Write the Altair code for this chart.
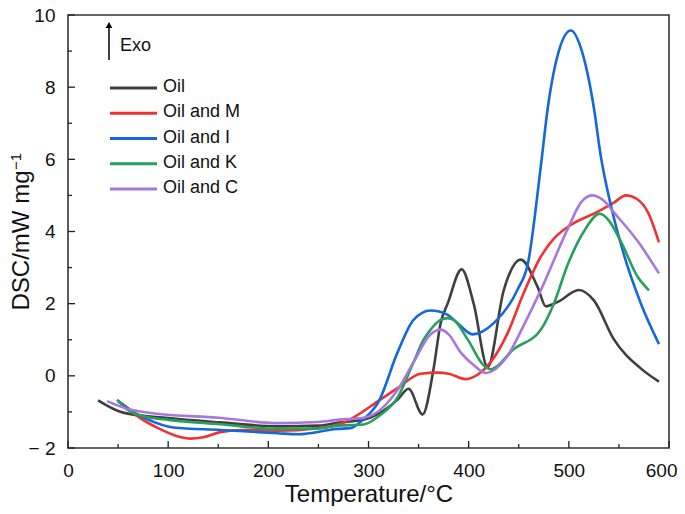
import altair as alt
import pandas as pd

# ---- data ----
oil_x = [30, 55, 100, 152, 209, 250, 269, 295, 310, 329, 340, 354, 365, 372, 379, 393, 405, 419, 435, 452, 469, 477, 489, 510, 525, 545, 572, 590]
oil_y = [-0.68, -1.02, -1.17, -1.29, -1.40, -1.38, -1.30, -1.22, -1.05, -0.66, -0.36, -1.07, 0.20, 1.46, 2.00, 2.95, 2.00, 0.24, 2.37, 3.22, 2.45, 1.93, 2.05, 2.38, 2.09, 1.01, 0.20, -0.16]

m_x = [50, 60, 69, 90, 110, 122, 135, 152, 175, 209, 250, 275, 295, 305, 329, 352, 369, 380, 397, 410, 422, 439, 455, 472, 485, 499, 529, 545, 557, 568, 579, 590]
m_y = [-0.70, -0.90, -1.11, -1.45, -1.68, -1.74, -1.70, -1.56, -1.50, -1.52, -1.45, -1.30, -0.98, -0.79, -0.34, 0.06, 0.09, 0.06, -0.09, 0.05, 0.38, 1.19, 2.30, 3.30, 3.80, 4.13, 4.55, 4.80, 5.00, 4.90, 4.53, 3.70]

i_x = [50, 65, 79, 105, 152, 209, 230, 269, 282, 295, 310, 329, 345, 362, 379, 389, 404, 425, 449, 459, 472, 479, 490, 502, 513, 525, 532, 542, 555, 572, 590]
i_y = [-0.70, -1.00, -1.20, -1.43, -1.50, -1.59, -1.62, -1.47, -1.45, -1.20, -0.72, 0.65, 1.55, 1.81, 1.69, 1.46, 1.15, 1.46, 2.40, 3.09, 5.80, 7.43, 9.00, 9.57, 9.00, 7.43, 6.07, 4.72, 3.36, 2.00, 0.88]

k_x = [49, 59, 80, 100, 152, 209, 250, 269, 295, 312, 329, 345, 355, 362, 372, 379, 385, 399, 415, 422, 445, 472, 485, 499, 515, 531, 540, 552, 569, 580]
k_y = [-0.66, -0.93, -1.15, -1.22, -1.34, -1.47, -1.46, -1.38, -1.35, -1.08, -0.60, 0.38, 1.00, 1.28, 1.55, 1.60, 1.55, 1.01, 0.29, 0.18, 0.74, 1.28, 2.00, 3.09, 4.00, 4.49, 4.30, 3.72, 2.73, 2.37]

c_x = [39, 60, 89, 150, 209, 250, 269, 295, 305, 329, 345, 362, 372, 380, 392, 405, 417, 439, 455, 472, 499, 512, 523, 535, 545, 569, 590]
c_y = [-0.70, -0.92, -1.05, -1.16, -1.31, -1.28, -1.22, -1.16, -1.07, -0.39, 0.38, 1.15, 1.28, 1.15, 0.65, 0.30, 0.08, 0.56, 1.40, 2.37, 4.08, 4.80, 5.00, 4.85, 4.53, 3.72, 2.84]

series_names = ["Oil", "Oil and M", "Oil and I", "Oil and K", "Oil and C"]
series_colors = ["#3f3f3f", "#ef3232", "#1467dc", "#27a05c", "#a877dd"]

x_major = [0, 100, 200, 300, 400, 500, 600]
x_minor = [50, 150, 250, 350, 450, 550]
y_major = [-2, 0, 2, 4, 6, 8, 10]
y_minor = [-1, 1, 3, 5, 7, 9]

# ---- build tables ----
rows = []
for name, xs, ys in zip(series_names, [oil_x, m_x, i_x, k_x, c_x], [oil_y, m_y, i_y, k_y, c_y]):
    for xv, yv in zip(xs, ys):
        rows.append({"series": name, "T": xv, "DSC": yv})
df = pd.DataFrame(rows)
leg_df = pd.DataFrame({"series": series_names, "row": list(range(len(series_names)))})

W, H = 601, 433
FONT = "Liberation Sans"

xscale = alt.Scale(domain=[0, 600], nice=False, zero=False)
yscale = alt.Scale(domain=[-2, 10], nice=False, zero=False)
cscale = alt.Scale(domain=series_names, range=series_colors)
rowscale = alt.Scale(domain=[0, 4], range=[73, 174])

xaxis = alt.Axis(values=x_major, ticks=False, tickSize=0, domain=False, grid=False,
                 labelFlush=False, labelFontSize=19, labelPadding=13, labelColor="#111",
                 labelAlign={"condition": {"test": "datum.value == 600", "value": "right"}, "value": "center"},
                 labelOffset={"condition": {"test": "datum.value == 600", "value": 8}, "value": 0},
                 titleFontSize=24, titleFontWeight="normal", titleColor="#111",
                 titleY=53, titleBaseline="alphabetic", labelFont=FONT, titleFont=FONT)

lines = alt.Chart(df).mark_line(interpolate="monotone", strokeWidth=2.6).encode(
    x=alt.X("T:Q", scale=xscale, title="Temperature/°C", axis=xaxis),
    y=alt.Y("DSC:Q", scale=yscale, title="DSC/mW mg",
            axis=alt.Axis(values=y_major, ticks=False, tickSize=0, domain=False, grid=False,
                          labelFlush=False, labelFontSize=19, labelPadding=13, labelColor="#111",
                          labelExpr="datum.value < 0 ? '\u2212 ' + abs(datum.value) : datum.label",
                          titleFontSize=24, titleFontWeight="normal", titleColor="#111",
                          titleX=-40, titleY=225, titleBaseline="alphabetic",
                          labelFont=FONT, titleFont=FONT)),
    color=alt.Color("series:N", scale=cscale, legend=None),
    order=alt.Order("T:Q"),
)

ymaj_df = pd.DataFrame({"v": y_major})
ymin_df = pd.DataFrame({"v": y_minor})
xmaj_df = pd.DataFrame({"v": x_major})
xmin_df = pd.DataFrame({"v": x_minor})

ytick_major = alt.Chart(ymaj_df).mark_rule(color="#222", strokeWidth=1.3).encode(
    y=alt.Y("v:Q", scale=yscale, axis=None), x=alt.value(0), x2=alt.value(7))
ytick_minor = alt.Chart(ymin_df).mark_rule(color="#222", strokeWidth=1.3).encode(
    y=alt.Y("v:Q", scale=yscale, axis=None), x=alt.value(0), x2=alt.value(4))
xtick_major = alt.Chart(xmaj_df).mark_rule(color="#222", strokeWidth=1.3).encode(
    x=alt.X("v:Q", scale=xscale, title="Temperature/°C", axis=xaxis), y=alt.value(H), y2=alt.value(H - 7))
xtick_minor = alt.Chart(xmin_df).mark_rule(color="#222", strokeWidth=1.3).encode(
    x=alt.X("v:Q", scale=xscale, title="Temperature/°C", axis=xaxis), y=alt.value(H), y2=alt.value(H - 4))

# manual legend
leg_lines = alt.Chart(leg_df).mark_rule(strokeWidth=3).encode(
    y=alt.Y("row:Q", scale=rowscale, axis=None),
    x=alt.value(42), x2=alt.value(89),
    color=alt.Color("series:N", scale=cscale, legend=None),
)
leg_text = alt.Chart(leg_df).mark_text(
    align="left", baseline="middle", dy=-1, fontSize=18, font=FONT, color="#111").encode(
    y=alt.Y("row:Q", scale=rowscale, axis=None),
    x=alt.value(95),
    text="series:N",
)

# superscript of y title
sup = alt.Chart(pd.DataFrame({"t": ["\u22121"]})).mark_text(
    align="left", baseline="alphabetic", angle=270, fontSize=15, font=FONT, color="#111").encode(
    x=alt.value(-47), y=alt.value(155), text="t:N")

arrow_line = alt.Chart(pd.DataFrame({"a": [0]})).mark_rule(color="#000", strokeWidth=1.5).encode(
    x=alt.value(41), y=alt.value(13), y2=alt.value(45))
arrow_head = alt.Chart(pd.DataFrame({"a": [0]})).mark_point(
    shape="triangle-up", filled=True, color="#000", size=45, opacity=1).encode(
    x=alt.value(41), y=alt.value(10))
exo = alt.Chart(pd.DataFrame({"t": ["Exo"]})).mark_text(
    align="left", baseline="middle", fontSize=18, font=FONT, color="#111").encode(
    x=alt.value(52), y=alt.value(31), text="t:N")

chart = alt.layer(
    lines, ytick_major, ytick_minor, xtick_major, xtick_minor,
    leg_lines, leg_text, sup, arrow_line, arrow_head, exo
).resolve_scale(
    y="independent"
).properties(
    width=W, height=H,
    autosize=alt.AutoSizeParams(type="none"),
    padding={"left": 60, "top": 7, "right": 8, "bottom": 58},
).configure_view(
    stroke="#333", strokeWidth=1.6
)

chart.save("out.html", embed_options={"renderer": "svg", "actions": False})
